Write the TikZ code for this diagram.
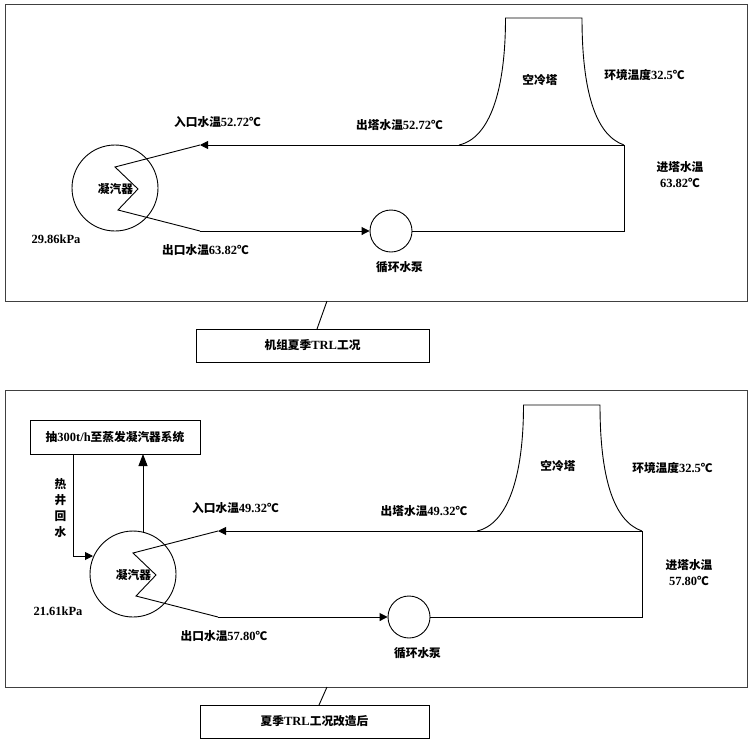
\documentclass[tikz,border=0pt]{standalone}
\usepackage{fontspec}
\setmainfont{Liberation Serif}
\newfontfamily\cjk{Noto Sans CJK SC}
\usetikzlibrary{arrows.meta}
\newcommand{\C}[1]{{\cjk\bfseries\fontsize{11.7}{12}\selectfont #1}}
\tikzset{
  every picture/.append style={x=1pt,y=-1pt},
  lbl/.style={inner sep=0pt,align=center,font=\bfseries\fontsize{12.5}{16}\selectfont},
  frame/.style={draw=black!75,line width=1pt,inner sep=0pt},
  capbox/.style={draw=black,line width=0.8pt},
  wire/.style={draw=black,line width=0.9pt},
  arrowwire/.style={wire,-{Triangle[length=8pt,width=8pt]}},
  bigarrow/.style={wire,-{Triangle[length=12pt,width=9pt]}},
  ring/.style={circle,draw=black,line width=0.9pt,inner sep=0pt}
}
\begin{document}
\begin{tikzpicture}
\useasboundingbox (0,0) rectangle (751,742);
% ---------- top panel
\draw[frame] (5,4) rectangle (747,301);
\coordinate (tTL) at (505.5,18);
\coordinate (tTR) at (582,18);
\coordinate (tBL) at (459,145);
\coordinate (tBR) at (624,145);
\draw[wire] (tBL) .. controls (490,138) and (505.5,90) .. (tTL) -- (tTR)
  .. controls (582,90) and (595,135) .. (tBR);
\node[ring,minimum size=86pt] (cond1) at (115,188) {};
\node[ring,minimum size=42pt] (pump1) at (391,231) {};
\coordinate (a1) at (200,145);
\coordinate (z1) at (115,167);
\coordinate (z2) at (138,189);
\coordinate (z3) at (118,210);
\coordinate (b1) at (200,231);
\coordinate (c1) at (624,231);
\draw[arrowwire] (tBR) -- (a1);
\draw[wire] (a1) -- (z1) -- (z2) -- (z3) -- (b1);
\draw[arrowwire] (b1) -- (pump1.west);
\draw[wire] (pump1.east) -- (c1) -- (tBR);
\node[lbl] (l1) at (540,80) {\C{空冷塔}};
\node[lbl] (l2) at (644.5,75) {\C{环境温度}32.5\C{℃}};
\node[lbl] (l3) at (399.5,125) {\C{出塔水温}52.72\C{℃}};
\node[lbl] (l4) at (217.5,122) {\C{入口水温}52.72\C{℃}};
\node[lbl] (l5) at (680,174.5) {\C{进塔水温}\\63.82\C{℃}};
\node[lbl] (l6) at (115.5,189) {\C{凝汽器}};
\node[lbl] (l7) at (56,239) {29.86kPa};
\node[lbl] (l8) at (205.5,250) {\C{出口水温}63.82\C{℃}};
\node[lbl] (l9) at (399.5,267) {\C{循环水泵}};
\node[capbox,minimum width=233pt,minimum height=33pt,inner sep=0pt] (cap1) at (312.5,345.5) {};
\node[lbl] at (cap1.center) {\C{机组夏季}TRL\C{工况}};
\coordinate (f1) at (327,301);
\draw[wire] (f1) -- (317,329);
% ---------- bottom panel
\draw[frame] (5,390) rectangle (747,687);
\coordinate (uTL) at (523.5,405);
\coordinate (uTR) at (600,405);
\coordinate (uBL) at (477,531);
\coordinate (uBR) at (642,531);
\draw[wire] (uBL) .. controls (508,524) and (523.5,476) .. (uTL) -- (uTR)
  .. controls (600,476) and (613,521) .. (uBR);
\node[ring,minimum size=86pt] (cond2) at (133,574) {};
\node[ring,minimum size=42pt] (pump2) at (409,617) {};
\coordinate (a2) at (218,531);
\coordinate (y1) at (133,553);
\coordinate (y2) at (156,575);
\coordinate (y3) at (136,596);
\coordinate (b2) at (218,617);
\coordinate (c2) at (642,617);
\draw[arrowwire] (uBR) -- (a2);
\draw[wire] (a2) -- (y1) -- (y2) -- (y3) -- (b2);
\draw[arrowwire] (b2) -- (pump2.west);
\draw[wire] (pump2.east) -- (c2) -- (uBR);
\node[draw=black,line width=0.9pt,minimum width=170pt,minimum height=34pt,inner sep=0pt] (ext) at (115,437) {};
\node[lbl] at (ext.center) {\C{抽}300t/h\C{至蒸发凝汽器系统}};
\coordinate (e1) at (73,454);
\coordinate (e2) at (73,556);
\coordinate (e3) at (143,532);
\coordinate (e4) at (143,454);
\coordinate (e5) at (93,556);
\draw[arrowwire] (e1) -- (e2) -- (e5);
\draw[bigarrow] (e3) -- (e4);
\node[lbl] (m1) at (60.5,508) {\C{热}\\[0pt]\C{井}\\[0pt]\C{回}\\[0pt]\C{水}};
\node[lbl] (m2) at (558,466) {\C{空冷塔}};
\node[lbl] (m3) at (672.5,468) {\C{环境温度}32.5\C{℃}};
\node[lbl] (m4) at (424,511) {\C{出塔水温}49.32\C{℃}};
\node[lbl] (m5) at (235.5,508) {\C{入口水温}49.32\C{℃}};
\node[lbl] (m6) at (689,573) {\C{进塔水温}\\57.80\C{℃}};
\node[lbl] (m7) at (133.5,575) {\C{凝汽器}};
\node[lbl] (m8) at (58,611) {21.61kPa};
\node[lbl] (m9) at (224,636) {\C{出口水温}57.80\C{℃}};
\node[lbl] (m10) at (417.5,653) {\C{循环水泵}};
\node[capbox,minimum width=229pt,minimum height=33pt,inner sep=0pt] (cap2) at (314.5,721.5) {};
\node[lbl] at (cap2.center) {\C{夏季}TRL\C{工况改造后}};
\coordinate (f2) at (327,687);
\draw[wire] (f2) -- (319,705);
\end{tikzpicture}
\end{document}
